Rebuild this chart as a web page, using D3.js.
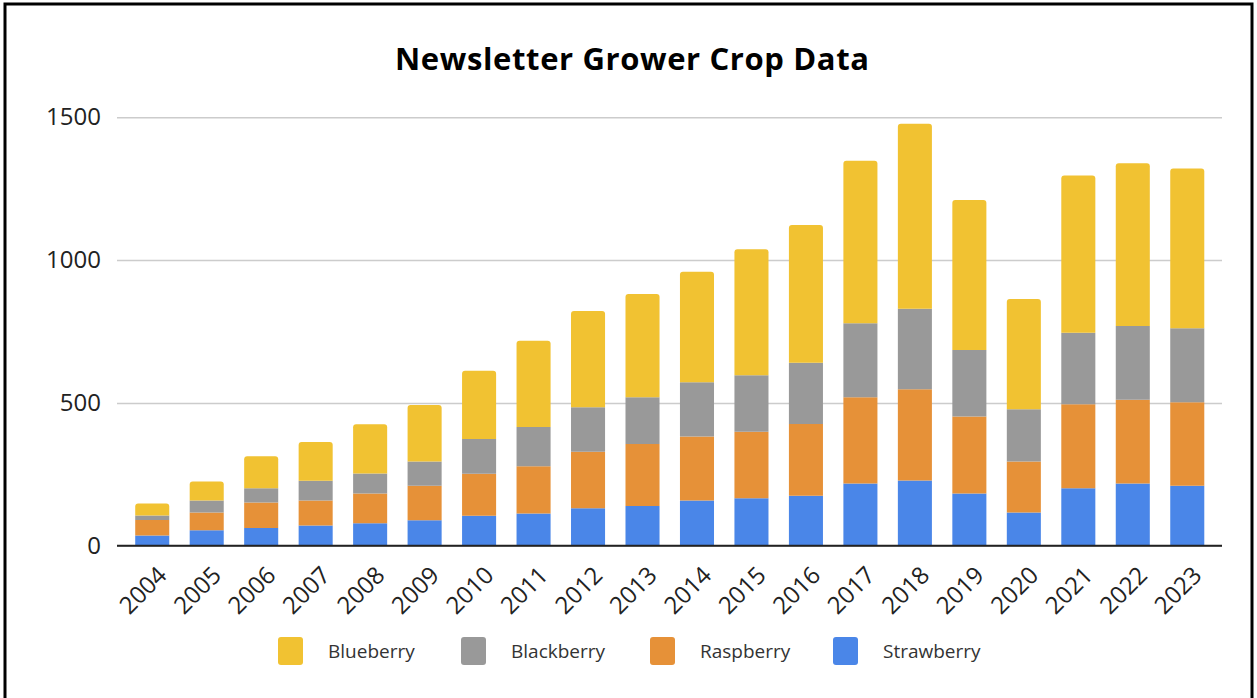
<!DOCTYPE html>
<html>
<head>
<meta charset="utf-8">
<script src="https://cdn.jsdelivr.net/npm/d3@7"></script>
<style>
  html, body { margin: 0; padding: 0; background: #fff; }
  svg { display: block; }
</style>
</head>
<body>
<svg id="chart" width="1257" height="698"></svg>
<script>
// Years on the x axis
const years = ["2004","2005","2006","2007","2008","2009","2010","2011","2012","2013",
               "2014","2015","2016","2017","2018","2019","2020","2021","2022","2023"];

// Crop totals per year, one array per berry (stacked bottom to top)
const strawberry = [36, 54, 62, 71, 79, 89, 105, 113, 131, 139, 158, 166, 175, 218, 228, 183, 116, 201, 218, 210];
const raspberry  = [54, 62, 89, 87, 104, 121, 147, 165, 198, 217, 224, 233, 251, 302, 320, 269, 179, 294, 293, 292];
const blackberry = [16, 42, 50, 69, 70, 85, 122, 138, 156, 164, 190, 198, 215, 259, 282, 233, 183, 251, 258, 259];
const blueberry  = [42, 67, 112, 136, 172, 198, 239, 302, 337, 361, 387, 441, 482, 569, 647, 525, 386, 550, 570, 560];

const yTicks = [0, 500, 1000, 1500];

const seriesNames = ["Strawberry", "Raspberry", "Blackberry", "Blueberry"];
const seriesValues = [strawberry, raspberry, blackberry, blueberry];
const legendOrder = ["Blueberry", "Blackberry", "Raspberry", "Strawberry"];
const colors = {
  Strawberry: "#4a86e8",
  Raspberry: "#e69138",
  Blackberry: "#999999",
  Blueberry: "#f1c232"
};

const svg = d3.select("#chart");

// Frame around the whole chart
svg.append("rect")
  .attr("x", 5).attr("y", 4).attr("width", 1247).attr("height", 720)
  .attr("fill", "none").attr("stroke", "#000").attr("stroke-width", 3);

// Title
svg.append("text")
  .attr("x", 632).attr("y", 70)
  .attr("text-anchor", "middle")
  .attr("font-family", "'Open Sans', sans-serif")
  .attr("font-weight", 700)
  .attr("font-size", 31)
  .attr("textLength", 474)
  .attr("lengthAdjust", "spacing")
  .attr("fill", "#000")
  .text("Newsletter Grower Crop Data");

const plot = { left: 117, right: 1222, top: 117.3, bottom: 545.7 };

const x = d3.scaleBand()
  .domain(years)
  .range([125, 1214.5])
  .paddingInner(0.375)
  .paddingOuter(0.1875);

const y = d3.scaleLinear()
  .domain([0, 1500])
  .range([plot.bottom, plot.top]);

// Gridlines and y tick labels
const yAxis = d3.axisLeft(y)
  .tickValues(yTicks)
  .tickSize(-(plot.right - plot.left))
  .tickPadding(16)
  .tickFormat(d3.format("d"));

const gy = svg.append("g")
  .attr("transform", `translate(${plot.left},0)`)
  .call(yAxis);
gy.select(".domain").remove();
gy.selectAll(".tick line").attr("stroke", "#cccccc").attr("stroke-width", 1.5);
gy.selectAll(".tick text")
  .attr("font-family", "'Open Sans', sans-serif")
  .attr("font-size", 24)
  .attr("fill", "#222");

// Stacked bars
const table = years.map((yr, i) => {
  const row = { year: yr };
  seriesNames.forEach((s, k) => { row[s] = seriesValues[k][i]; });
  return row;
});
const stacked = d3.stack().keys(seriesNames)(table);

const r = 3;
function barPath(x0, w, yTop, yBot, rounded) {
  if (!rounded) return `M${x0},${yBot}V${yTop}H${x0 + w}V${yBot}Z`;
  return `M${x0},${yBot}V${yTop + r}Q${x0},${yTop} ${x0 + r},${yTop}` +
         `H${x0 + w - r}Q${x0 + w},${yTop} ${x0 + w},${yTop + r}V${yBot}Z`;
}

svg.append("g")
  .selectAll("g")
  .data(stacked)
  .join("g")
  .attr("fill", d => colors[d.key])
  .selectAll("path")
  .data(d => d.map(v => ({ v, top: d.key === "Blueberry" })))
  .join("path")
  .attr("d", d => barPath(x(d.v.data.year), x.bandwidth(), y(d.v[1]), y(d.v[0]), d.top));

// Baseline
svg.append("line")
  .attr("x1", plot.left).attr("x2", plot.right)
  .attr("y1", plot.bottom).attr("y2", plot.bottom)
  .attr("stroke", "#222").attr("stroke-width", 2);

// Year labels, rotated
const xAxis = d3.axisBottom(x).tickSize(0).tickPadding(0);
const gx = svg.append("g")
  .attr("transform", `translate(0,${plot.bottom})`)
  .call(xAxis);
gx.select(".domain").remove();
gx.selectAll(".tick text")
  .attr("font-family", "'Open Sans', sans-serif")
  .attr("font-size", 24)
  .attr("fill", "#222")
  .attr("text-anchor", "end")
  .attr("dy", null)
  .attr("y", 0)
  .attr("transform", "translate(16,31) rotate(-45)");

// Legend
const legendX = [278, 461, 650, 833];
const lg = svg.append("g");
legendOrder.forEach((name, i) => {
  lg.append("rect")
    .attr("x", legendX[i]).attr("y", 637)
    .attr("width", 25).attr("height", 28)
    .attr("rx", 3)
    .attr("fill", colors[name]);
  lg.append("text")
    .attr("x", legendX[i] + 50).attr("y", 658)
    .attr("font-family", "'Open Sans', sans-serif")
    .attr("font-size", 19)
    .attr("fill", "#333")
    .text(name);
});
</script>
</body>
</html>
